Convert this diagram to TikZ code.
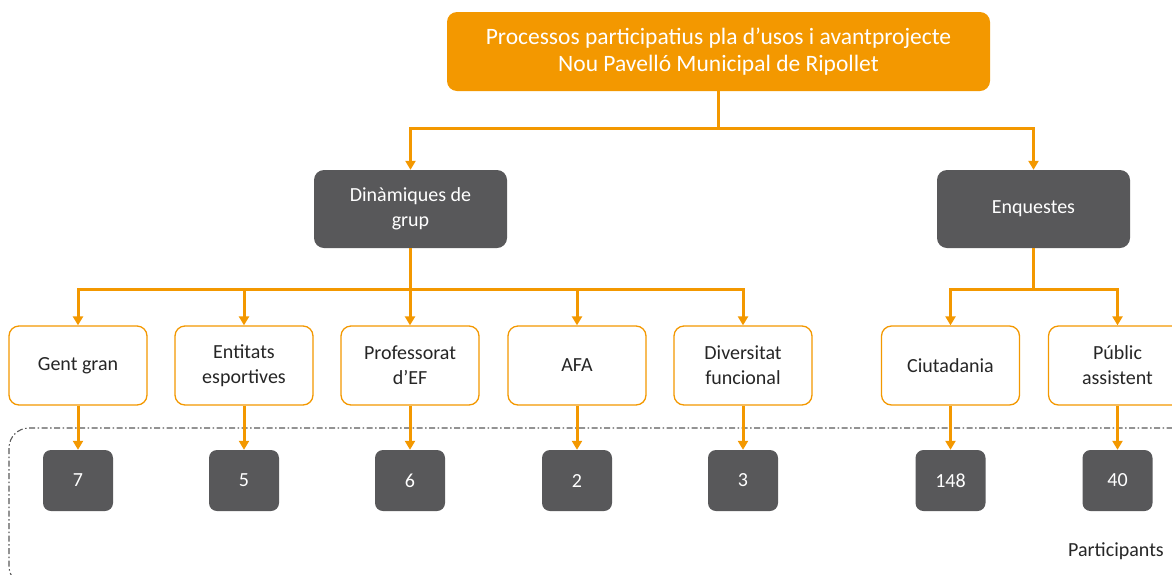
\documentclass[tikz,border=0pt]{standalone}
\usepackage{fontspec}
\setmainfont{Carlito}
\usetikzlibrary{arrows.meta}
\definecolor{orng}{HTML}{F39800}
\definecolor{dgray}{HTML}{58585A}
\definecolor{txt}{HTML}{262626}
\begin{document}
\begin{tikzpicture}[x=1pt,y=-1pt,
  topbox/.style={fill=orng, draw=none, rounded corners=10pt, text=white, align=center,
    minimum width=543pt, minimum height=79pt, font=\fontsize{23.5}{27}\selectfont, inner sep=0pt},
  grpbox/.style={fill=dgray, draw=none, rounded corners=10pt, text=white, align=center,
    minimum width=193pt, minimum height=78pt, font=\fontsize{20}{25}\selectfont, inner sep=0pt},
  catbox/.style={fill=white, draw=orng, line width=1.3pt, rounded corners=10pt, text=txt, align=center,
    minimum width=138pt, minimum height=79pt, font=\fontsize{20}{25}\selectfont, inner sep=0pt},
  numbox/.style={fill=dgray, draw=none, rounded corners=8pt, text=white,
    minimum width=70pt, minimum height=61pt, font=\fontsize{20}{24}\selectfont, inner sep=0pt},
  conn/.style={draw=orng, line width=3pt},
  arr/.style={conn, -{Triangle[width=10pt,length=9pt]}},
  bracket/.style={draw=black!65, line width=1.1pt, dash pattern=on 6pt off 2.5pt on 1.5pt off 2.5pt, rounded corners=20pt}
]
\useasboundingbox (0,0) rectangle (1172,574);
\clip (0,0) rectangle (1172,574);

\draw[bracket] (1260,428) -- (9,428) -- (9,586) -- (1260,586);

\node[topbox] (top) at (718.5,51.5) {Processos participatius pla d’usos i avantprojecte\\Nou Pavelló Municipal de Ripollet};

\node[grpbox] (dgm) at (410.5,209) {Dinàmiques de\\grup};
\node[grpbox] (enq) at (1033.5,209) {Enquestes};

\node[catbox] (c1) at (78,365.5) {Gent gran};
\node[catbox] (c2) at (244,365.5) {Entitats\\esportives};
\node[catbox] (c3) at (410,365.5) {Professorat\\d’EF};
\node[catbox] (c4) at (577,365.5) {AFA};
\node[catbox] (c5) at (743,365.5) {Diversitat\\funcional};
\node[catbox] (c6) at (950.5,365.5) {Ciutadania};
\node[catbox] (c7) at (1117.5,365.5) {Públic\\assistent};

\node[numbox] (n1) at (78,480.5) {7};
\node[numbox] (n2) at (244,480.5) {5};
\node[numbox] (n3) at (410,480.5) {6};
\node[numbox] (n4) at (577,480.5) {2};
\node[numbox] (n5) at (743,480.5) {3};
\node[numbox] (n6) at (950.5,480.5) {148};
\node[numbox] (n7) at (1117.5,480.5) {40};

\node[font=\fontsize{20}{24}\selectfont, text=txt] (part) at (1116,551) {Participants};

% top level connectors
\coordinate (j1) at (top.south |- 0,128);
\draw[conn] (top.south) -- (j1);
\draw[arr] (j1) -| (dgm.north);
\draw[arr] (j1) -| (enq.north);

% Dinamiques connectors
\coordinate (j2) at (dgm.south |- 0,289);
\draw[conn] (dgm.south) -- (j2);
\foreach \c in {c1,c2,c3,c4,c5}{
  \draw[arr] (j2) -| (\c.north);
}
% Enquestes connectors
\coordinate (j3) at (enq.south |- 0,289);
\draw[conn] (enq.south) -- (j3);
\foreach \c in {c6,c7}{
  \draw[arr] (j3) -| (\c.north);
}

% to numbers
\foreach \i in {1,...,7}{
  \draw[arr] (c\i.south) -- (n\i.north);
}
\end{tikzpicture}
\end{document}
